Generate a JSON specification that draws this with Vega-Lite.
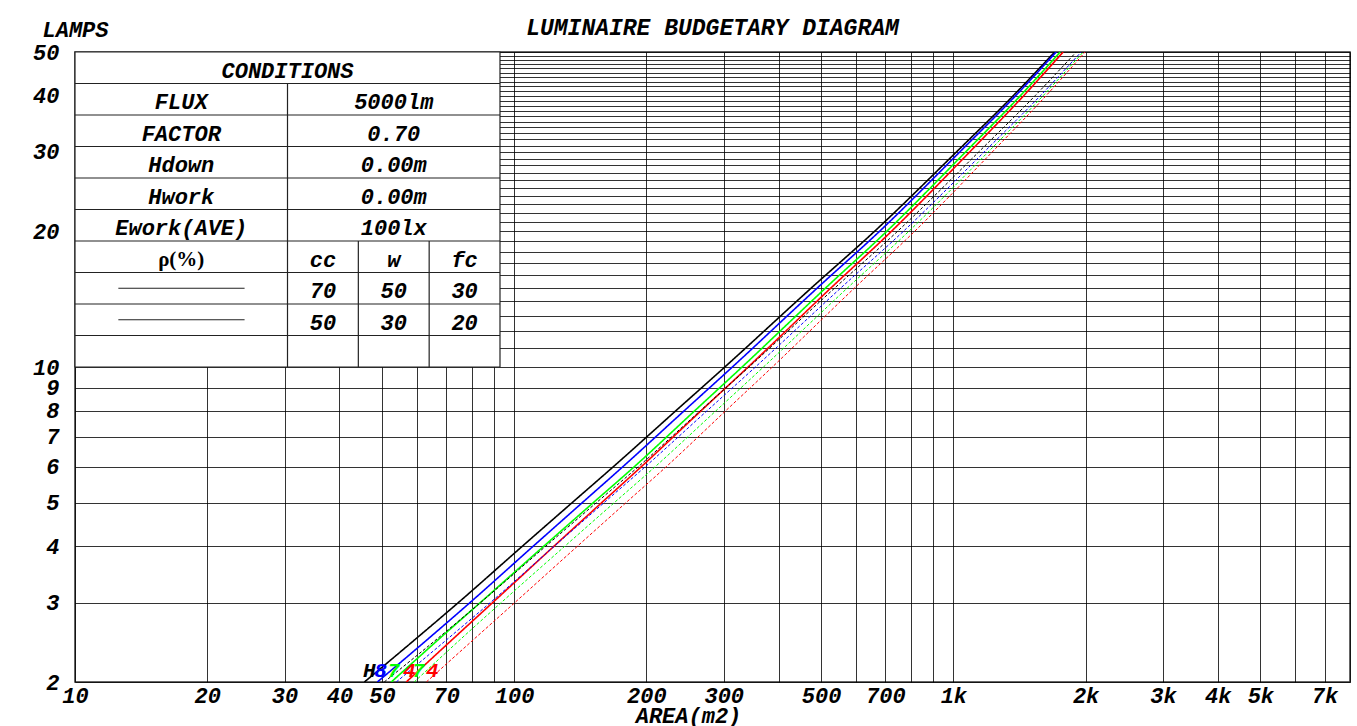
{
  "$schema": "https://vega.github.io/schema/vega-lite/v6.json",
  "width": 1275,
  "height": 630,
  "autosize": {"type": "none"},
  "padding": {"left": 75, "top": 52, "right": 7, "bottom": 44},
  "background": "white",
  "config": {
    "view": {"stroke": "#333", "strokeWidth": 1.5},
    "axis": {
      "labelFont": "Liberation Mono", "labelFontWeight": "bold", "labelFontStyle": "italic", "labelFontSize": 22, "labelColor": "#000",
      "titleFont": "Liberation Mono", "titleFontWeight": "bold", "titleFontStyle": "italic", "titleFontSize": 22, "titleColor": "#000",
      "gridColor": "#000", "gridOpacity": 0.8, "gridWidth": 1, "ticks": false, "domain": false
    }
  },
  "title": {
    "text": "LUMINAIRE BUDGETARY DIAGRAM",
    "font": "Liberation Mono", "fontWeight": "bold", "fontStyle": "italic", "fontSize": 23, "color": "#000",
    "anchor": "middle", "baseline": "alphabetic", "offset": 16, "dy": 56
  },
  "datasets": {
    "curves": [
      {"lum": "A", "refl": "solid", "lamps": 2, "area": 45.6},
      {"lum": "A", "refl": "solid", "lamps": 2.5, "area": 59.9},
      {"lum": "A", "refl": "solid", "lamps": 3, "area": 74.6},
      {"lum": "A", "refl": "solid", "lamps": 4, "area": 104.3},
      {"lum": "A", "refl": "solid", "lamps": 5, "area": 135.5},
      {"lum": "A", "refl": "solid", "lamps": 6, "area": 167.9},
      {"lum": "A", "refl": "solid", "lamps": 8, "area": 233.5},
      {"lum": "A", "refl": "solid", "lamps": 10, "area": 301.7},
      {"lum": "A", "refl": "solid", "lamps": 15, "area": 475.7},
      {"lum": "A", "refl": "solid", "lamps": 20, "area": 661.4},
      {"lum": "A", "refl": "solid", "lamps": 30, "area": 1016},
      {"lum": "A", "refl": "solid", "lamps": 40, "area": 1369},
      {"lum": "A", "refl": "solid", "lamps": 50, "area": 1701},
      {"lum": "B", "refl": "solid", "lamps": 2, "area": 48.8},
      {"lum": "B", "refl": "solid", "lamps": 2.5, "area": 63.9},
      {"lum": "B", "refl": "solid", "lamps": 3, "area": 79.3},
      {"lum": "B", "refl": "solid", "lamps": 4, "area": 110.4},
      {"lum": "B", "refl": "solid", "lamps": 5, "area": 142.9},
      {"lum": "B", "refl": "solid", "lamps": 6, "area": 176.5},
      {"lum": "B", "refl": "solid", "lamps": 8, "area": 244.0},
      {"lum": "B", "refl": "solid", "lamps": 10, "area": 313.9},
      {"lum": "B", "refl": "solid", "lamps": 15, "area": 490.9},
      {"lum": "B", "refl": "solid", "lamps": 20, "area": 678.9},
      {"lum": "B", "refl": "solid", "lamps": 30, "area": 1034},
      {"lum": "B", "refl": "solid", "lamps": 40, "area": 1386},
      {"lum": "B", "refl": "solid", "lamps": 50, "area": 1714},
      {"lum": "C", "refl": "solid", "lamps": 2, "area": 52.5},
      {"lum": "C", "refl": "solid", "lamps": 2.5, "area": 67.7},
      {"lum": "C", "refl": "solid", "lamps": 3, "area": 83.7},
      {"lum": "C", "refl": "solid", "lamps": 4, "area": 116.7},
      {"lum": "C", "refl": "solid", "lamps": 5, "area": 151.4},
      {"lum": "C", "refl": "solid", "lamps": 6, "area": 187.4},
      {"lum": "C", "refl": "solid", "lamps": 8, "area": 257.8},
      {"lum": "C", "refl": "solid", "lamps": 10, "area": 330.3},
      {"lum": "C", "refl": "solid", "lamps": 15, "area": 512.7},
      {"lum": "C", "refl": "solid", "lamps": 20, "area": 705.0},
      {"lum": "C", "refl": "solid", "lamps": 30, "area": 1066},
      {"lum": "C", "refl": "solid", "lamps": 40, "area": 1421},
      {"lum": "C", "refl": "solid", "lamps": 50, "area": 1751},
      {"lum": "D", "refl": "solid", "lamps": 2, "area": 56.8},
      {"lum": "D", "refl": "solid", "lamps": 2.5, "area": 72.8},
      {"lum": "D", "refl": "solid", "lamps": 3, "area": 89.3},
      {"lum": "D", "refl": "solid", "lamps": 4, "area": 123.1},
      {"lum": "D", "refl": "solid", "lamps": 5, "area": 158.2},
      {"lum": "D", "refl": "solid", "lamps": 6, "area": 194.4},
      {"lum": "D", "refl": "solid", "lamps": 8, "area": 266.5},
      {"lum": "D", "refl": "solid", "lamps": 10, "area": 340.9},
      {"lum": "D", "refl": "solid", "lamps": 15, "area": 527.1},
      {"lum": "D", "refl": "solid", "lamps": 20, "area": 722.6},
      {"lum": "D", "refl": "solid", "lamps": 30, "area": 1089},
      {"lum": "D", "refl": "solid", "lamps": 40, "area": 1446},
      {"lum": "D", "refl": "solid", "lamps": 50, "area": 1778},
      {"lum": "A", "refl": "dashed", "lamps": 2, "area": 50.6},
      {"lum": "A", "refl": "dashed", "lamps": 2.5, "area": 67.0},
      {"lum": "A", "refl": "dashed", "lamps": 3, "area": 83.8},
      {"lum": "A", "refl": "dashed", "lamps": 4, "area": 117.9},
      {"lum": "A", "refl": "dashed", "lamps": 5, "area": 153.9},
      {"lum": "A", "refl": "dashed", "lamps": 6, "area": 191.4},
      {"lum": "A", "refl": "dashed", "lamps": 8, "area": 265.4},
      {"lum": "A", "refl": "dashed", "lamps": 10, "area": 342.5},
      {"lum": "A", "refl": "dashed", "lamps": 15, "area": 538.0},
      {"lum": "A", "refl": "dashed", "lamps": 20, "area": 746.1},
      {"lum": "A", "refl": "dashed", "lamps": 30, "area": 1142},
      {"lum": "A", "refl": "dashed", "lamps": 40, "area": 1535},
      {"lum": "A", "refl": "dashed", "lamps": 50, "area": 1904},
      {"lum": "B", "refl": "dashed", "lamps": 2, "area": 53.9},
      {"lum": "B", "refl": "dashed", "lamps": 2.5, "area": 70.8},
      {"lum": "B", "refl": "dashed", "lamps": 3, "area": 88.2},
      {"lum": "B", "refl": "dashed", "lamps": 4, "area": 123.3},
      {"lum": "B", "refl": "dashed", "lamps": 5, "area": 160.2},
      {"lum": "B", "refl": "dashed", "lamps": 6, "area": 198.5},
      {"lum": "B", "refl": "dashed", "lamps": 8, "area": 275.0},
      {"lum": "B", "refl": "dashed", "lamps": 10, "area": 354.2},
      {"lum": "B", "refl": "dashed", "lamps": 15, "area": 555.3},
      {"lum": "B", "refl": "dashed", "lamps": 20, "area": 769.3},
      {"lum": "B", "refl": "dashed", "lamps": 30, "area": 1175},
      {"lum": "B", "refl": "dashed", "lamps": 40, "area": 1578},
      {"lum": "B", "refl": "dashed", "lamps": 50, "area": 1954},
      {"lum": "C", "refl": "dashed", "lamps": 2, "area": 59.2},
      {"lum": "C", "refl": "dashed", "lamps": 2.5, "area": 75.9},
      {"lum": "C", "refl": "dashed", "lamps": 3, "area": 93.4},
      {"lum": "C", "refl": "dashed", "lamps": 4, "area": 130.3},
      {"lum": "C", "refl": "dashed", "lamps": 5, "area": 169.0},
      {"lum": "C", "refl": "dashed", "lamps": 6, "area": 209.1},
      {"lum": "C", "refl": "dashed", "lamps": 8, "area": 288.2},
      {"lum": "C", "refl": "dashed", "lamps": 10, "area": 369.5},
      {"lum": "C", "refl": "dashed", "lamps": 15, "area": 574.8},
      {"lum": "C", "refl": "dashed", "lamps": 20, "area": 791.6},
      {"lum": "C", "refl": "dashed", "lamps": 30, "area": 1200},
      {"lum": "C", "refl": "dashed", "lamps": 40, "area": 1601},
      {"lum": "C", "refl": "dashed", "lamps": 50, "area": 1975},
      {"lum": "D", "refl": "dashed", "lamps": 2, "area": 63.1},
      {"lum": "D", "refl": "dashed", "lamps": 2.5, "area": 81.4},
      {"lum": "D", "refl": "dashed", "lamps": 3, "area": 100.3},
      {"lum": "D", "refl": "dashed", "lamps": 4, "area": 139.2},
      {"lum": "D", "refl": "dashed", "lamps": 5, "area": 179.7},
      {"lum": "D", "refl": "dashed", "lamps": 6, "area": 221.6},
      {"lum": "D", "refl": "dashed", "lamps": 8, "area": 303.3},
      {"lum": "D", "refl": "dashed", "lamps": 10, "area": 387.1},
      {"lum": "D", "refl": "dashed", "lamps": 15, "area": 596.7},
      {"lum": "D", "refl": "dashed", "lamps": 20, "area": 816.2},
      {"lum": "D", "refl": "dashed", "lamps": 30, "area": 1226},
      {"lum": "D", "refl": "dashed", "lamps": 40, "area": 1626},
      {"lum": "D", "refl": "dashed", "lamps": 50, "area": 1995}
    ],
    "tags": [
      {"lum": "A", "text": "H", "area": 46.8, "lamps": 2.14},
      {"lum": "B", "text": "8", "area": 49.6, "lamps": 2.14},
      {"lum": "C", "text": "7", "area": 53.1, "lamps": 2.14},
      {"lum": "D", "text": "4", "area": 57.7, "lamps": 2.14},
      {"lum": "C", "text": "7", "area": 60.5, "lamps": 2.14},
      {"lum": "D", "text": "4", "area": 65.1, "lamps": 2.14}
    ],
    "tableText": [
      {"col": 0.16667, "row": 0.975, "text": "CONDITIONS"},
      {"col": 0.08333, "row": 0.925, "text": "FLUX"},
      {"col": 0.25, "row": 0.925, "text": "5000lm"},
      {"col": 0.08333, "row": 0.875, "text": "FACTOR"},
      {"col": 0.25, "row": 0.875, "text": "0.70"},
      {"col": 0.08333, "row": 0.825, "text": "Hdown"},
      {"col": 0.25, "row": 0.825, "text": "0.00m"},
      {"col": 0.08333, "row": 0.775, "text": "Hwork"},
      {"col": 0.25, "row": 0.775, "text": "0.00m"},
      {"col": 0.08333, "row": 0.725, "text": "Ework(AVE)"},
      {"col": 0.25, "row": 0.725, "text": "100lx"},
      {"col": 0.19444, "row": 0.675, "text": "cc"},
      {"col": 0.25, "row": 0.675, "text": "w"},
      {"col": 0.30556, "row": 0.675, "text": "fc"},
      {"col": 0.19444, "row": 0.625, "text": "70"},
      {"col": 0.25, "row": 0.625, "text": "50"},
      {"col": 0.30556, "row": 0.625, "text": "30"},
      {"col": 0.19444, "row": 0.575, "text": "50"},
      {"col": 0.25, "row": 0.575, "text": "30"},
      {"col": 0.30556, "row": 0.575, "text": "20"}
    ],
    "tableRules": [
      {"c1": 0, "c2": 0.33333, "r1": 0.95, "r2": 0.95},
      {"c1": 0, "c2": 0.33333, "r1": 0.9, "r2": 0.9},
      {"c1": 0, "c2": 0.33333, "r1": 0.85, "r2": 0.85},
      {"c1": 0, "c2": 0.33333, "r1": 0.8, "r2": 0.8},
      {"c1": 0, "c2": 0.33333, "r1": 0.75, "r2": 0.75},
      {"c1": 0, "c2": 0.33333, "r1": 0.7, "r2": 0.7},
      {"c1": 0, "c2": 0.33333, "r1": 0.65, "r2": 0.65},
      {"c1": 0, "c2": 0.33333, "r1": 0.6, "r2": 0.6},
      {"c1": 0, "c2": 0.33333, "r1": 0.55, "r2": 0.55},
      {"c1": 0.16667, "c2": 0.16667, "r1": 0.5, "r2": 0.95},
      {"c1": 0.22222, "c2": 0.22222, "r1": 0.5, "r2": 0.7},
      {"c1": 0.27778, "c2": 0.27778, "r1": 0.5, "r2": 0.7},
      {"c1": 0.034, "c2": 0.133, "r1": 0.625, "r2": 0.625},
      {"c1": 0.034, "c2": 0.133, "r1": 0.575, "r2": 0.575}
    ]
  },
  "layer": [
    {
      "layer": [
        {
          "data": {"name": "curves"},
          "mark": {"type": "line", "interpolate": "monotone", "clip": true},
          "encoding": {
            "x": {
              "field": "area", "type": "quantitative",
              "scale": {"type": "log", "domain": [10, 8000], "nice": false},
              "axis": {
                "title": "AREA(m2)", "titleX": 613, "titleY": 40, "titleBaseline": "alphabetic", "titleAnchor": "start", "titleAlign": "center",
                "values": [10,20,30,40,50,60,70,80,90,100,200,300,400,500,600,700,800,900,1000,2000,3000,4000,5000,6000,7000,8000],
                "labelExpr": "indexof([10,20,30,40,50,70,100,200,300,500,700,1000,2000,3000,4000,5000,7000], datum.value) >= 0 ? (datum.value >= 1000 ? (datum.value/1000) + 'k' : '' + datum.value) : ''",
                "labelPadding": 3, "labelBaseline": "top", "labelFlush": false, "labelOverlap": false, "grid": true
              }
            },
            "y": {
              "field": "lamps", "type": "quantitative",
              "scale": {"type": "log", "domain": [2, 50], "nice": false},
              "axis": {
                "title": "LAMPS", "titleAngle": 0, "titleX": -33, "titleY": -16, "titleAlign": "left", "titleBaseline": "alphabetic",
                "values": [2,3,4,5,6,7,8,9,10,11,12,13,14,15,16,17,18,19,20,21,22,23,24,25,26,27,28,29,30,31,32,33,34,35,36,37,38,39,40,41,42,43,44,45,46,47,48,49,50],
                "labelExpr": "(datum.value <= 10 || datum.value % 10 == 0) ? '' + datum.value : ''",
                "labelPadding": 16, "labelFlush": false, "labelOverlap": false, "grid": true
              }
            },
            "color": {"field": "lum", "type": "nominal", "scale": {"domain": ["A", "B", "C", "D"], "range": ["#000000", "#0000ff", "#00ff00", "#ff0000"]}, "legend": null},
            "strokeDash": {"field": "refl", "type": "nominal", "scale": {"domain": ["solid", "dashed"], "range": [[1, 0], [3, 2]]}, "legend": null},
            "strokeWidth": {"field": "refl", "type": "nominal", "scale": {"domain": ["solid", "dashed"], "range": [1.6, 1]}, "legend": null},
            "detail": {"field": "refl", "type": "nominal"},
            "order": {"field": "lamps", "type": "quantitative"}
          }
        },
        {
          "data": {"name": "tags"},
          "mark": {"type": "text", "font": "Liberation Mono", "fontWeight": "bold", "fontStyle": "italic", "fontSize": 21, "baseline": "middle", "align": "center", "dy": 2},
          "encoding": {
            "x": {"field": "area", "type": "quantitative"},
            "y": {"field": "lamps", "type": "quantitative"},
            "text": {"field": "text"},
            "color": {"field": "lum", "type": "nominal", "legend": null}
          }
        }
      ]
    },
    {
      "layer": [
        {
          "data": {"values": [{"c1": 0, "c2": 0.33333, "r1": 0.5, "r2": 1}]},
          "mark": {"type": "rect", "fill": "white", "stroke": "#222", "strokeWidth": 1.2},
          "encoding": {
            "x": {"field": "c1", "type": "quantitative", "scale": {"domain": [0, 1], "nice": false, "zero": false}, "axis": null},
            "x2": {"field": "c2"},
            "y": {"field": "r1", "type": "quantitative", "scale": {"domain": [0, 1], "nice": false, "zero": false}, "axis": null},
            "y2": {"field": "r2"}
          }
        },
        {
          "data": {"name": "tableRules"},
          "mark": {"type": "rule", "color": "#222", "strokeWidth": 1.2},
          "encoding": {
            "x": {"field": "c1", "type": "quantitative"},
            "x2": {"field": "c2"},
            "y": {"field": "r1", "type": "quantitative"},
            "y2": {"field": "r2"}
          }
        },
        {
          "data": {"name": "tableText"},
          "mark": {"type": "text", "font": "Liberation Mono", "fontWeight": "bold", "fontStyle": "italic", "fontSize": 22, "baseline": "middle", "align": "center", "color": "#000", "dy": 3},
          "encoding": {
            "x": {"field": "col", "type": "quantitative"},
            "y": {"field": "row", "type": "quantitative"},
            "text": {"field": "text"}
          }
        },
        {
          "data": {"values": [{"col": 0.08333, "row": 0.675, "text": "ρ(%)"}]},
          "mark": {"type": "text", "font": "Liberation Serif", "fontSize": 21, "fontWeight": "bold", "baseline": "middle", "align": "center", "color": "#000", "dy": 3},
          "encoding": {
            "x": {"field": "col", "type": "quantitative"},
            "y": {"field": "row", "type": "quantitative"},
            "text": {"field": "text"}
          }
        }
      ]
    }
  ],
  "resolve": {"scale": {"x": "independent", "y": "independent"}}
}
